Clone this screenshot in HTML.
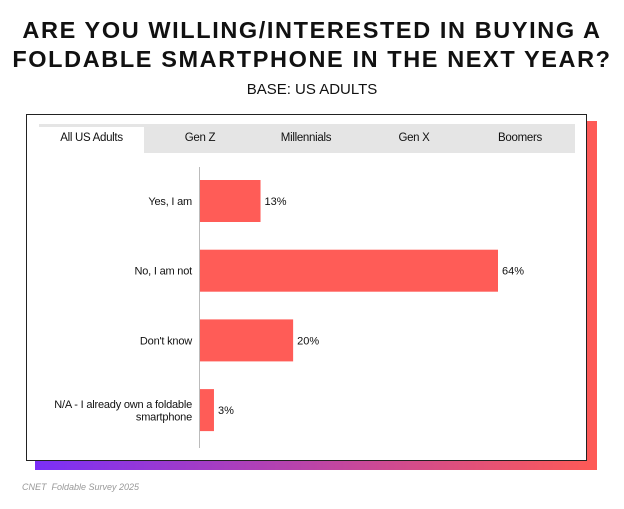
<!DOCTYPE html>
<html><head><meta charset="utf-8"><style>
body{margin:0;width:624px;height:509px;background:#fff;font-family:"Liberation Sans",sans-serif;position:relative;overflow:hidden}
.t{position:absolute;left:0;width:624px;text-align:center;font-weight:900;font-size:23.5px;letter-spacing:1.6px;color:#111}
</style></head><body>
<div class="t" style="top:16px;line-height:29px">ARE YOU WILLING/INTERESTED IN BUYING A<br>FOLDABLE SMARTPHONE IN THE NEXT YEAR?</div>
<div style="position:absolute;top:81px;left:0;width:624px;text-align:center;font-size:15px;color:#111">BASE: US ADULTS</div>
<div style="position:absolute;left:35px;top:121px;width:562px;height:349px;background:linear-gradient(90deg,#7b2ff7,#ff5a55)"></div>
<div style="position:absolute;left:26px;top:114px;width:559px;height:345px;background:#fff;border:1px solid #222"></div>
<div style="position:absolute;left:39px;top:124px;width:536px;height:29px;background:#e5e5e5"></div>
<div id="tabs"></div>
<svg id="chart" width="624" height="509" style="position:absolute;left:0;top:0"></svg>
<div style="position:absolute;left:22px;top:482px;font-size:9px;font-style:italic;color:#999">CNET&nbsp; Foldable Survey 2025</div>
<script>
const tabs=["All US Adults","Gen Z","Millennials","Gen X","Boomers"];
const tabCenters=[92,200,306,414,520];
const categories=[["Yes, I am"],["No, I am not"],["Don't know"],["N/A - I already own a foldable","smartphone"]];
const values=[13,64,20,3];
const valueLabels=["13%","64%","20%","3%"];
const T=document.getElementById('tabs');
tabs.forEach((t,i)=>{const d=document.createElement('div');


d.textContent=t;
d.style.cssText='position:absolute;top:'+(i==0?127:124)+'px;height:29px;line-height:'+(i==0?23:29)+'px;font-size:11.5px;color:#111;text-align:center;letter-spacing:-0.3px;'+(i==0?'left:39px;width:105px;background:#fff;':'left:'+(tabCenters[i]-50)+'px;width:100px;');
T.appendChild(d);});
const S=document.getElementById('chart'),NS='http://www.w3.org/2000/svg';
const x0=200,k=(498-200)/64;
const x=v=>x0+v*k, y=i=>180+i*69.7;
function el(tag,a){const e=document.createElementNS(NS,tag);for(const key in a)e.setAttribute(key,a[key]);S.appendChild(e);return e;}
const ax=el('line',{x1:199.5,x2:199.5,y1:167,y2:448,stroke:'#bbb','stroke-width':1});

values.forEach((v,i)=>{
const r=el('rect',{x:x0,y:y(i),width:x(v)-x0,height:42,fill:'#ff5c57'});

const t=el('text',{x:x(v)+4,y:y(i)+25,'font-size':11,fill:'#111','font-family':'Liberation Sans'});
t.textContent=valueLabels[i];

const lines=categories[i];
lines.forEach((l,j)=>{const c=el('text',{x:192,y:y(i)+25+(j-(lines.length-1)/2)*12.5,'font-size':11,fill:'#111','text-anchor':'end','font-family':'Liberation Sans','letter-spacing':'-0.2'});
c.textContent=l;
});
});
</script>
</body></html>
